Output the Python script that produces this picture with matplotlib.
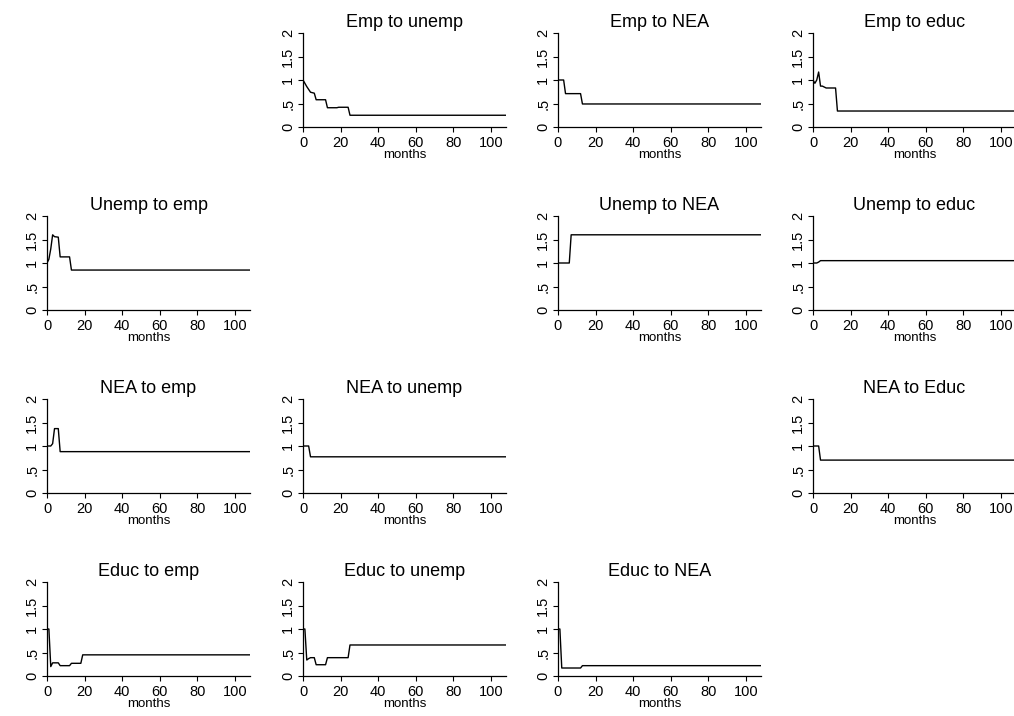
import matplotlib
matplotlib.use("Agg")
import matplotlib.pyplot as plt

plt.rcParams["font.family"] = ["Liberation Sans", "DejaVu Sans"]

# months / values where each series changes (flat afterwards)
emp_unemp_m = [0, 1, 2, 3, 4, 5, 6, 7, 12, 13, 18, 19, 24, 25, 108]
emp_unemp_v = [1.0, 0.93, 0.86, 0.80, 0.74, 0.73, 0.72, 0.58, 0.58, 0.41, 0.41, 0.42, 0.42, 0.25, 0.25]

emp_nea_m = [0, 3, 4, 12, 13, 108]
emp_nea_v = [1.0, 1.0, 0.71, 0.71, 0.49, 0.49]

emp_educ_m = [0, 1, 2, 3, 4, 5, 6, 7, 12, 13, 108]
emp_educ_v = [1.0, 0.93, 1.0, 1.17, 0.87, 0.87, 0.85, 0.83, 0.83, 0.34, 0.34]

unemp_emp_m = [0, 1, 2, 3, 4, 6, 7, 12, 13, 108]
unemp_emp_v = [1.0, 1.08, 1.3, 1.6, 1.56, 1.55, 1.13, 1.13, 0.85, 0.85]

unemp_nea_m = [0, 6, 7, 108]
unemp_nea_v = [1.0, 1.0, 1.6, 1.6]

unemp_educ_m = [0, 2, 3, 4, 108]
unemp_educ_v = [1.0, 1.0, 1.02, 1.05, 1.05]

nea_emp_m = [0, 2, 3, 4, 6, 7, 108]
nea_emp_v = [1.0, 1.0, 1.05, 1.37, 1.37, 0.88, 0.88]

nea_unemp_m = [0, 3, 4, 108]
nea_unemp_v = [1.0, 1.0, 0.77, 0.77]

nea_educ_m = [0, 3, 4, 108]
nea_educ_v = [1.0, 1.0, 0.70, 0.70]

educ_emp_m = [0, 1, 2, 3, 6, 7, 12, 13, 18, 19, 108]
educ_emp_v = [1.0, 1.0, 0.2, 0.28, 0.28, 0.22, 0.22, 0.27, 0.27, 0.45, 0.45]

educ_unemp_m = [0, 1, 2, 3, 4, 6, 7, 12, 13, 24, 25, 108]
educ_unemp_v = [1.0, 1.0, 0.34, 0.37, 0.39, 0.39, 0.24, 0.24, 0.39, 0.39, 0.66, 0.66]

educ_nea_m = [0, 1, 2, 12, 13, 108]
educ_nea_v = [1.0, 1.0, 0.17, 0.17, 0.22, 0.22]

panels = [
    (0, 1, "Emp to unemp", emp_unemp_m, emp_unemp_v),
    (0, 2, "Emp to NEA", emp_nea_m, emp_nea_v),
    (0, 3, "Emp to educ", emp_educ_m, emp_educ_v),
    (1, 0, "Unemp to emp", unemp_emp_m, unemp_emp_v),
    (1, 2, "Unemp to NEA", unemp_nea_m, unemp_nea_v),
    (1, 3, "Unemp to educ", unemp_educ_m, unemp_educ_v),
    (2, 0, "NEA to emp", nea_emp_m, nea_emp_v),
    (2, 1, "NEA to unemp", nea_unemp_m, nea_unemp_v),
    (2, 3, "NEA to Educ", nea_educ_m, nea_educ_v),
    (3, 0, "Educ to emp", educ_emp_m, educ_emp_v),
    (3, 1, "Educ to unemp", educ_unemp_m, educ_unemp_v),
    (3, 2, "Educ to NEA", educ_nea_m, educ_nea_v),
]

yticks = [0, 0.5, 1, 1.5, 2]
ylabels = ["0", ".5", "1", "1.5", "2"]
xticks = [0, 20, 40, 60, 80, 100]

W, H = 1014, 716
col_left = [47, 303, 558, 813]
row_bottom = [127, 310, 493, 676]
aw, ah = 203, 94

fig = plt.figure(figsize=(W / 100, H / 100), dpi=100)

for r, c, title, m, v in panels:
    ax = fig.add_axes([col_left[c] / W, 1 - row_bottom[r] / H, aw / W, ah / H])
    ax.plot(m, v, color="black", lw=1.0)
    ax.set_xlim(0, 108)
    ax.set_ylim(0, 2)
    ax.set_xticks(xticks)
    ax.set_yticks(yticks)
    ax.set_yticklabels(ylabels, rotation=90, va="center")
    ax.tick_params(labelsize=10.5, length=3.5, width=0.8)
    ax.tick_params(axis="x", pad=3)
    ax.tick_params(axis="y", pad=2)
    ax.spines["top"].set_visible(False)
    ax.spines["right"].set_visible(False)
    for s in ("left", "bottom"):
        ax.spines[s].set_linewidth(0.9)
    ax.set_xlabel("months", fontsize=9.5, labelpad=-1)
    ax.set_title(title, fontsize=13, pad=4)

fig.savefig("out.png", dpi=100)
